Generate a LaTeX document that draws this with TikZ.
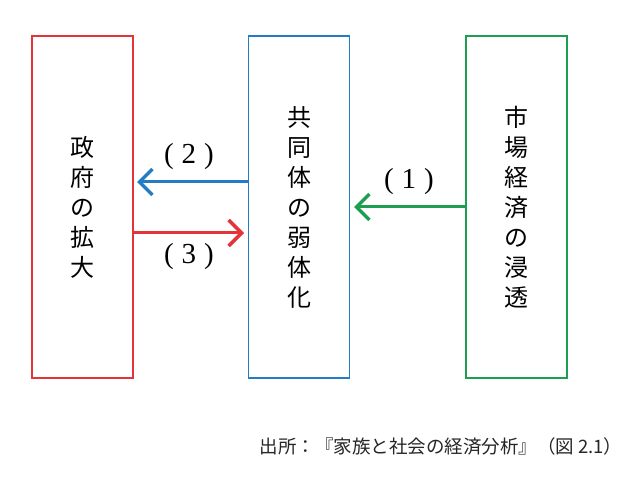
\documentclass[tikz,border=0pt]{standalone}
\usepackage{fontspec}
\newfontfamily\jp{Noto Sans CJK JP}
\newfontfamily\serifnum{Liberation Serif}
\usetikzlibrary{arrows.meta}
\definecolor{cred}{RGB}{228,52,58}
\definecolor{cblue}{RGB}{36,124,196}
\definecolor{cgreen}{RGB}{30,158,80}
\tikzset{
  boxstyle/.style={draw, line width=1.8pt, minimum width=101pt, minimum height=342pt, inner sep=0pt},
  vtext/.style={font=\jp\fontsize{24}{30}\selectfont, align=center},
  arr/.style={line width=3pt, -{Straight Barb[length=13pt,width=26pt,line width=3.5pt]}},
  lab/.style={font=\serifnum\fontsize{29}{31}\selectfont}
}
\begin{document}
\begin{tikzpicture}[x=1pt,y=-1pt]
\useasboundingbox[fill=white] (0,0) rectangle (640,481);
\node[boxstyle, draw=cred] (gov) at (82.5,207) {};
\node[boxstyle, draw=cblue] (com) at (299,207) {};
\node[boxstyle, draw=cgreen] (mkt) at (516.5,207) {};
\node[vtext] (govt) at (gov.center) {政\\府\\の\\拡\\大};
\node[vtext] (comt) at (com.center) {共\\同\\体\\の\\弱\\体\\化};
\node[vtext] (mktt) at (mkt.center) {市\\場\\経\\済\\の\\浸\\透};
\coordinate (a2s) at (com.west |- 0,182);
\coordinate (a2e) at (137,182);
\draw[arr, cblue] (a2s) -- (a2e);
\coordinate (a3s) at (gov.east |- 0,233);
\coordinate (a3e) at (244,233);
\draw[arr, cred] (a3s) -- (a3e);
\coordinate (a1s) at (mkt.west |- 0,207);
\coordinate (a1e) at (354,207);
\draw[arr, cgreen] (a1s) -- (a1e);
\node[lab] (l2) at (189,157) {(\hspace{8pt}2\hspace{8pt})};
\node[lab] (l3) at (189,257) {(\hspace{8pt}3\hspace{8pt})};
\node[lab] (l1) at (409,182) {(\hspace{8pt}1\hspace{8pt})};
\node[font=\jp\fontsize{18.5}{21}\selectfont, anchor=east, text=black!85] (src) at (626,446) {出所：『家族と社会の経済分析』（図 2.1）};
\end{tikzpicture}
\end{document}
